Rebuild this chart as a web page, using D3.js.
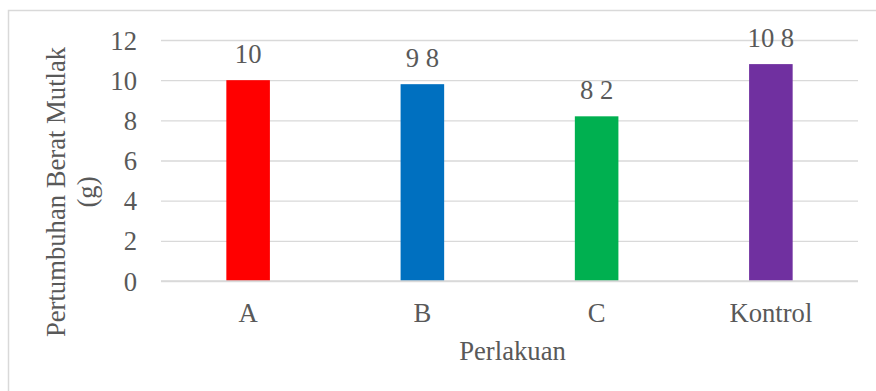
<!DOCTYPE html>
<html>
<head>
<meta charset="utf-8">
<script src="https://cdn.jsdelivr.net/npm/d3@7"></script>
<style>
  html, body { margin: 0; padding: 0; background: #fff; }
  svg { display: block; }
  text { font-family: "Times New Roman", "Liberation Serif", serif; fill: #595959; }
</style>
</head>
<body>
<svg id="chart" width="876" height="391"></svg>
<script>
const categories = ["A", "B", "C", "Kontrol"];
const values = [10, 9.8, 8.2, 10.8];
const valueLabels = ["10", "9 8", "8 2", "10 8"];
const colors = ["#FF0000", "#0070C0", "#00B050", "#7030A0"];
const yTicks = [0, 2, 4, 6, 8, 10, 12];
const yTitleLines = ["Pertumbuhan Berat Mutlak", "(g)"];
const xTitle = "Perlakuan";

const W = 876, H = 391;
const plot = { left: 161, right: 858, top: 40, bottom: 281 };
const fontSize = 26.67;
const FONT = '"Times New Roman", "Liberation Serif", serif';

const svg = d3.select("#chart");

svg.append("rect")
  .attr("x", 8.5).attr("y", 10.5)
  .attr("width", W + 20).attr("height", H + 20)
  .attr("fill", "none").attr("stroke", "#d9d9d9").attr("stroke-width", 1.5);

const x = d3.scaleBand().domain(categories)
  .range([plot.left, plot.right])
  .paddingInner(0.75).paddingOuter(0.375);
const y = d3.scaleLinear().domain([0, 12]).range([plot.bottom, plot.top]);

const yAxis = d3.axisLeft(y).tickValues(yTicks)
  .tickSize(-(plot.right - plot.left)).tickPadding(24).tickFormat(d3.format("d"));
const gy = svg.append("g").attr("transform", `translate(${plot.left},0)`).call(yAxis)
  .attr("font-family", FONT).attr("font-size", fontSize);
gy.select(".domain").remove();
gy.selectAll(".tick line").attr("stroke", "#d9d9d9").attr("stroke-width", 1.3);
gy.selectAll(".tick text")
  .attr("fill", "#595959")
  .attr("dy", "0.34em");

svg.append("g").selectAll("rect").data(categories).join("rect")
  .attr("x", d => x(d))
  .attr("width", x.bandwidth())
  .attr("y", (d, i) => y(values[i]))
  .attr("height", (d, i) => y(0) - y(values[i]))
  .attr("fill", (d, i) => colors[i]);

svg.append("g").attr("font-family", FONT).selectAll("text").data(categories).join("text")
  .attr("x", d => x(d) + x.bandwidth() / 2)
  .attr("y", (d, i) => y(values[i]) - 17)
  .attr("text-anchor", "middle")
  .attr("font-size", fontSize)
  .text((d, i) => valueLabels[i]);

const xAxis = d3.axisBottom(x).tickSize(0).tickPadding(0);
const gx = svg.append("g").attr("transform", `translate(0,${plot.bottom})`).call(xAxis)
  .attr("font-family", FONT).attr("font-size", fontSize);
gx.select(".domain").attr("stroke", "#d9d9d9").attr("stroke-width", 1.5)
  .attr("d", `M${plot.left},0H${plot.right}`);
gx.selectAll(".tick text")
  .attr("fill", "#595959")
  .attr("dy", null).attr("y", 41);

svg.append("text")
  .attr("x", (plot.left + plot.right) / 2 + 3)
  .attr("y", 360)
  .attr("text-anchor", "middle")
  .attr("font-size", fontSize)
  .text(xTitle);

const yt = svg.append("text")
  .attr("transform", "translate(0,192) rotate(-90)")
  .attr("text-anchor", "middle")
  .attr("font-size", fontSize);
yt.selectAll("tspan").data(yTitleLines).join("tspan")
  .attr("x", 0)
  .attr("y", (d, i) => 65 + i * 31)
  .text(d => d);
</script>
</body>
</html>
